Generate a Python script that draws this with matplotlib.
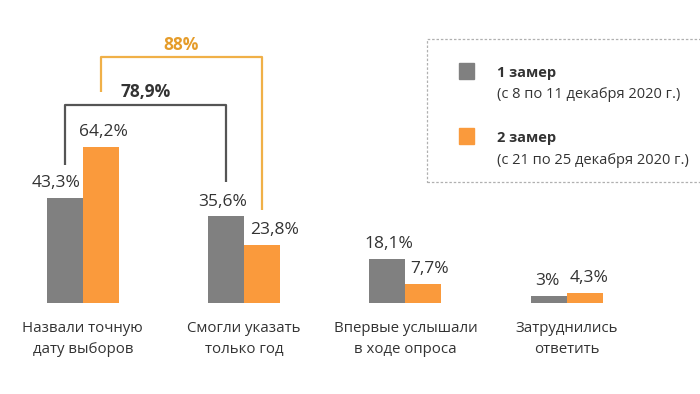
import matplotlib
matplotlib.use("Agg")
import matplotlib.pyplot as plt
from matplotlib.patches import Rectangle

categories = ["Назвали точную\nдату выборов", "Смогли указать\nтолько год",
              "Впервые услышали\nв ходе опроса", "Затруднились\nответить"]
series1 = [43.3, 35.6, 18.1, 3.0]
series2 = [64.2, 23.8, 7.7, 4.3]
labels1 = ["43,3%", "35,6%", "18,1%", "3%"]
labels2 = ["64,2%", "23,8%", "7,7%", "4,3%"]
legend1 = ("1 замер", "(с 8 по 11 декабря 2020 г.)")
legend2 = ("2 замер", "(с 21 по 25 декабря 2020 г.)")
bracket_gray_text = "78,9%"
bracket_orange_text = "88%"

GRAY = "#808080"
ORANGE = "#FA9A3C"
DARK = "#333333"
BR_GRAY = "#555555"
BR_ORANGE = "#F0B048"
TXT_ORANGE = "#E59C2A"

plt.rcParams['font.family'] = ['Open Sans', 'DejaVu Sans']

fig = plt.figure(figsize=(7.0, 3.94), dpi=100)
fig.patch.set_facecolor("white")
ax = fig.add_axes([0, 0, 1, 1])
ax.set_axis_off()

# pixel mapping: x_px = 82.8 + 161.3*i ; y_px = 303 - 2.43*v
sx = 161.3
x0 = 82.8
ax.set_xlim(-x0 / sx, (700 - x0) / sx)
sy = 2.43
ax.set_ylim(-(394 - 303) / sy, 303 / sy)

w = 36 / sx
xs = list(range(len(categories)))
ax.bar([x - w / 2 for x in xs], series1, width=w, color=GRAY, zorder=2)
ax.bar([x + w / 2 for x in xs], series2, width=w, color=ORANGE, zorder=2)

shift1 = [-9, -3, 1, -1]
shift2 = [3, 12, 6, 4]
for i, x in enumerate(xs):
    ax.annotate(labels1[i], (x - w / 2, series1[i]), xytext=(shift1[i] * 0.72, 5),
                textcoords="offset points", ha="center", va="bottom",
                fontsize=12.5, color=DARK)
    ax.annotate(labels2[i], (x + w / 2, series2[i]), xytext=(shift2[i] * 0.72, 5),
                textcoords="offset points", ha="center", va="bottom",
                fontsize=12.5, color=DARK)
    ax.text(x, -(339 - 303) / sy, categories[i], ha="center", va="center",
            fontsize=10.8, color=DARK, linespacing=1.5)

# brackets
g_left, g_right = xs[0] - w / 2, xs[1] - w / 2
ax.plot([g_left, g_left, g_right, g_right], [56.8, 81.5, 81.5, 49.8],
        color=BR_GRAY, lw=1.6, solid_capstyle="butt", zorder=3)
ax.text((g_left + g_right) / 2, (303 - 92) / sy, bracket_gray_text, ha="center",
        va="center", fontsize=12.5, fontweight="bold", color=DARK)

o_left, o_right = xs[0] + w / 2, xs[1] + w / 2
ax.plot([o_left, o_left, o_right, o_right], [86.8, 101.2, 101.2, 38.3],
        color=BR_ORANGE, lw=1.6, solid_capstyle="butt", zorder=3)
ax.text((o_left + o_right) / 2, (303 - 45) / sy, bracket_orange_text, ha="center",
        va="center", fontsize=12.5, fontweight="bold", color=TXT_ORANGE)

# legend box (pixel coords via figure fraction)
def fx(px):
    return px / 700

def fy(py):
    return 1 - py / 394

box = Rectangle((fx(427), fy(182)), fx(700) - fx(427) + 0.05, fy(39) - fy(182),
                transform=fig.transFigure, fill=False, edgecolor="#B0B0B0",
                lw=0.9, linestyle=(0, (2, 1.5)), clip_on=False)
fig.add_artist(box)

for (sq_top, color, (t1, t2), ty1, ty2) in [
        (63, GRAY, legend1, 73, 95),
        (128, ORANGE, legend2, 138, 160)]:
    fig.add_artist(Rectangle((fx(459), fy(sq_top + 16)), fx(15), 16 / 394,
                             transform=fig.transFigure, color=color))
    fig.text(fx(497), fy(ty1), t1, ha="left", va="center", fontsize=10.5,
             fontweight="bold", color=DARK)
    fig.text(fx(497), fy(ty2), t2, ha="left", va="center", fontsize=10.5,
             color=DARK)

fig.savefig("out.png", dpi=100, facecolor="white")
